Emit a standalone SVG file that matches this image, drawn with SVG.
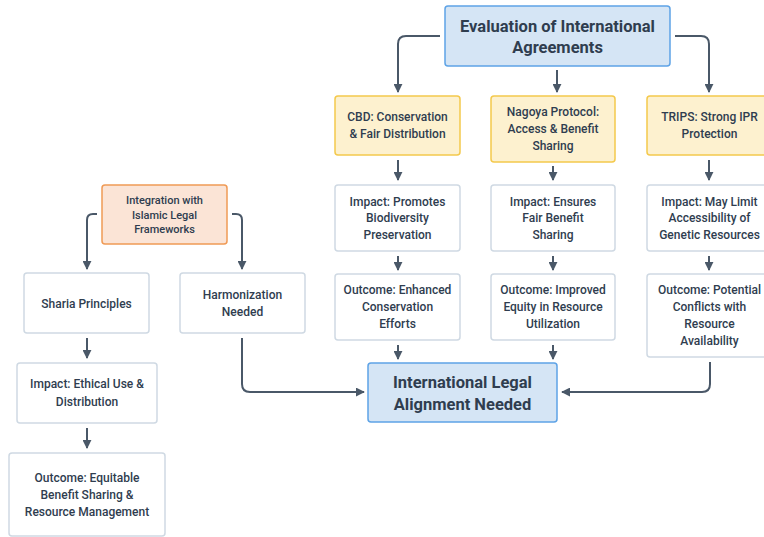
<svg xmlns="http://www.w3.org/2000/svg" width="764" height="537" viewBox="0 0 764 537">
<defs>
<marker id="ah" viewBox="0 0 10 10" refX="9" refY="5" markerWidth="4.5" markerHeight="4.5" orient="auto" markerUnits="strokeWidth">
<path d="M0,0 L10,5 L0,10 z" fill="#4a5868"/>
</marker>
<style>
.blue{fill:#d5e5f5;stroke:#5ea3e6;stroke-width:1.5}
.yel{fill:#fdf1cf;stroke:#f4c94c;stroke-width:1.5}
.org{fill:#fbe4d6;stroke:#f09a55;stroke-width:1.5}
.wht{fill:#ffffff;stroke:#cfd9e3;stroke-width:1.5}
text{font-family:Roboto,"Noto Sans",sans-serif;fill:#2f3d4f;text-anchor:middle;font-weight:500;font-size:12px}
.big{font-size:16.5px;font-weight:700}
.sm{font-size:11px}
.c{fill:none;stroke:#4a5868;stroke-width:2;marker-end:url(#ah)}
</style>
</defs>
<rect width="764" height="537" fill="#ffffff"/>
<g id="connectors">
<path class="c" d="M440,36 H406 Q398,36 398,44 V92"/>
<path class="c" d="M557,70 V92"/>
<path class="c" d="M675,36 H701 Q709,36 709,44 V92"/>
<path class="c" d="M398,160 V180"/>
<path class="c" d="M553,166 V180"/>
<path class="c" d="M709,160 V180"/>
<path class="c" d="M398,256 V270"/>
<path class="c" d="M553,256 V270"/>
<path class="c" d="M709,256 V270"/>
<path class="c" d="M398,345 V359"/>
<path class="c" d="M553,345 V359"/>
<path class="c" d="M710,362 V384 Q710,392 702,392 H562"/>
<path class="c" d="M242,338 V384 Q242,392 250,392 H364"/>
<path class="c" d="M97,214 H93 Q87,214 87,220 V269"/>
<path class="c" d="M232,214 H236 Q242,214 242,220 V269"/>
<path class="c" d="M87,338 V358"/>
<path class="c" d="M87,428 V448"/>
</g>
<g id="eval"><rect class="blue" x="445" y="6" width="225" height="60" rx="3"/><text class="big" x="557.5" y="32">Evaluation of International</text><text class="big" x="557.5" y="53">Agreements</text></g>
<g id="cbd"><rect class="yel" x="335" y="96" width="125" height="59" rx="3"/><text x="397.5" y="121">CBD: Conservation</text><text x="397.5" y="138">&amp; Fair Distribution</text></g>
<g id="nagoya"><rect class="yel" x="491" y="96" width="124" height="66" rx="3"/><text x="553" y="116">Nagoya Protocol:</text><text x="553" y="133">Access &amp; Benefit</text><text x="553" y="150">Sharing</text></g>
<g id="trips"><rect class="yel" x="647" y="96" width="125" height="59" rx="3"/><text x="709.5" y="121">TRIPS: Strong IPR</text><text x="709.5" y="138">Protection</text></g>
<g id="impact-cbd"><rect class="wht" x="335" y="185" width="125" height="66" rx="3"/><text x="397.5" y="206">Impact: Promotes</text><text x="397.5" y="222">Biodiversity</text><text x="397.5" y="239">Preservation</text></g>
<g id="impact-nagoya"><rect class="wht" x="491" y="185" width="124" height="66" rx="3"/><text x="553" y="206">Impact: Ensures</text><text x="553" y="222">Fair Benefit</text><text x="553" y="239">Sharing</text></g>
<g id="impact-trips"><rect class="wht" x="647" y="185" width="125" height="66" rx="3"/><text x="709.5" y="206">Impact: May Limit</text><text x="709.5" y="222">Accessibility of</text><text x="709.5" y="239">Genetic Resources</text></g>
<g id="outcome-cbd"><rect class="wht" x="335" y="274" width="125" height="66" rx="3"/><text x="397.5" y="294">Outcome: Enhanced</text><text x="397.5" y="311">Conservation</text><text x="397.5" y="328">Efforts</text></g>
<g id="outcome-nagoya"><rect class="wht" x="491" y="274" width="124" height="66" rx="3"/><text x="553" y="294">Outcome: Improved</text><text x="553" y="311">Equity in Resource</text><text x="553" y="328">Utilization</text></g>
<g id="outcome-trips"><rect class="wht" x="647" y="274" width="125" height="83" rx="3"/><text x="709.5" y="294">Outcome: Potential</text><text x="709.5" y="311">Conflicts with</text><text x="709.5" y="328">Resource</text><text x="709.5" y="345">Availability</text></g>
<g id="align"><rect class="blue" x="368" y="363" width="189" height="59" rx="3"/><text class="big" x="462.5" y="388">International Legal</text><text class="big" x="462.5" y="410">Alignment Needed</text></g>
<g id="integration"><rect class="org" x="102" y="185" width="125" height="59" rx="3"/><text class="sm" x="164.5" y="204">Integration with</text><text class="sm" x="164.5" y="219">Islamic Legal</text><text class="sm" x="164.5" y="233">Frameworks</text></g>
<g id="sharia"><rect class="wht" x="24" y="273" width="125" height="60" rx="3"/><text x="86.5" y="308">Sharia Principles</text></g>
<g id="harmonization"><rect class="wht" x="180" y="273" width="125" height="60" rx="3"/><text x="242.5" y="299">Harmonization</text><text x="242.5" y="316">Needed</text></g>
<g id="impact-ethical"><rect class="wht" x="17" y="363" width="140" height="60" rx="3"/><text x="87" y="388">Impact: Ethical Use &amp;</text><text x="87" y="406">Distribution</text></g>
<g id="outcome-equitable"><rect class="wht" x="9" y="453" width="156" height="83" rx="3"/><text x="87" y="482">Outcome: Equitable</text><text x="87" y="499">Benefit Sharing &amp;</text><text x="87" y="516">Resource Management</text></g>
</svg>
